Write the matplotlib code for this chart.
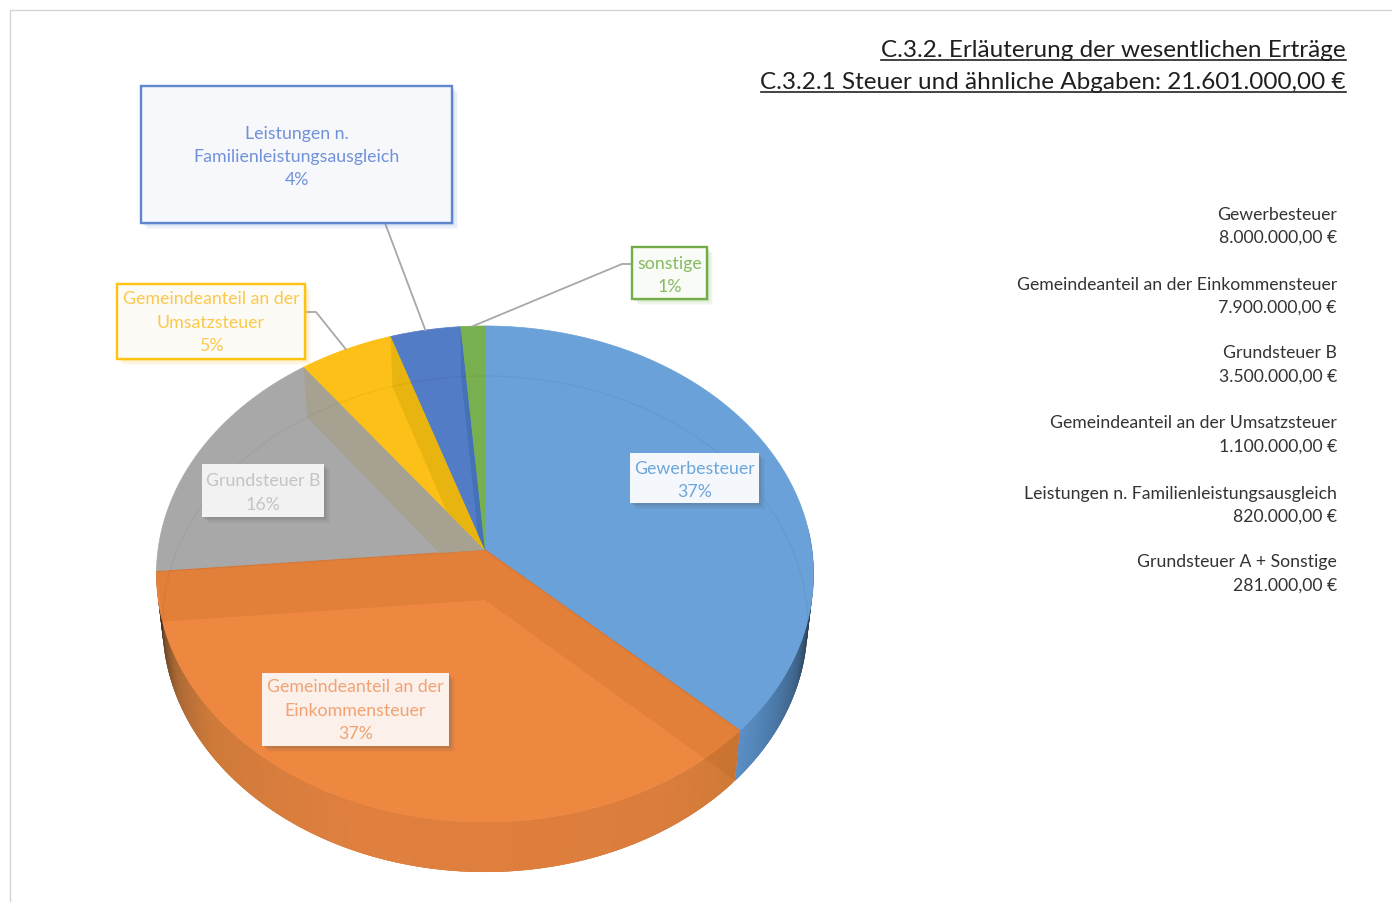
import numpy as np
import matplotlib
matplotlib.use("Agg")
import matplotlib.pyplot as plt
from matplotlib.patches import Polygon, Rectangle

plt.rcParams['font.family'] = ['Lato', 'DejaVu Sans']

# ─── Data ───────────────────────────────────────────
values = [8000000, 7900000, 3500000, 1100000, 820000, 281000]
slice_names = ['Gewerbesteuer', 'Gemeindeanteil an der\nEinkommensteuer', 'Grundsteuer B',
               'Gemeindeanteil an der\nUmsatzsteuer', 'Leistungen n.\nFamilienleistungsausgleich',
               'sonstige']
percent_labels = ['37%', '37%', '16%', '5%', '4%', '1%']
list_names = ['Gewerbesteuer', 'Gemeindeanteil an der Einkommensteuer', 'Grundsteuer B',
              'Gemeindeanteil an der Umsatzsteuer', 'Leistungen n. Familienleistungsausgleich',
              'Grundsteuer A + Sonstige']
list_amounts = ['8.000.000,00 €', '7.900.000,00 €', '3.500.000,00 €',
                '1.100.000,00 €', '820.000,00 €', '281.000,00 €']
titles = ['C.3.2. Erläuterung der wesentlichen Erträge',
          'C.3.2.1 Steuer und ähnliche Abgaben: 21.601.000,00 €']

# ─── Style ──────────────────────────────────────────
face_colors = ['#6aa1d8', '#ee8841', '#a8a8a8', '#fdc018', '#527cc6', '#78b04f']
text_colors = ['#6ea6da', '#f2a273', '#c4c4c4', '#fdc84a', '#7191d8', '#86bb62']
band_colors = [None, None, '#a6a190', '#e8b40f', '#4571b8']
CX, CY_TOP, CY_BOT = 485, 550, 600
A_TOP, A_BOT, B, K = 327, 321, 245.7, 0.0968

fig = plt.figure(figsize=(13.92, 9.02), dpi=100)
ax = fig.add_axes([0, 0, 1, 1])
ax.set_xlim(0, 1392)
ax.set_ylim(902, 0)
ax.axis('off')


def rim(theta_deg, cy, a):
    """Point(s) on a pie disc; theta clockwise from 12 o'clock, slight perspective."""
    th = np.radians(theta_deg)
    u, v = np.sin(th), np.cos(th)
    w = 1 + K * v
    return CX + a * u / w, cy - B * v / w


def top_pts(t0, t1):
    t = np.linspace(t0, t1, 200)
    return np.column_stack(rim(t, CY_TOP, A_TOP))


bounds = 360 * np.concatenate([[0], np.cumsum(values)]) / np.sum(values)

# ─── Outer wall, shaded along the angle ─────────────
# each strip runs a bit past the next one so no seams show between them
wall_ramps = {
    0: ([85, 100, 112, 125, bounds[1]],
        ['#1d2733', '#25364a', '#3f6388', '#4f80b2', '#5b90c6']),
    1: ([bounds[1], 150, 200, 232, 245, 256, bounds[2]],
        ['#cf7a38', '#db7d3c', '#e0803f', '#cf7a3a', '#ad6a35', '#6b4526', '#35261a']),
}
for idx, (stops, cols) in wall_ramps.items():
    rgb = np.array([matplotlib.colors.to_rgb(c) for c in cols])
    t_edges = np.arange(stops[0], stops[-1], 0.5)
    for t0 in t_edges:
        t1 = min(t0 + 1.5, stops[-1])
        x_a, y_a = rim(np.array([t0, t1]), CY_TOP, A_TOP)
        x_b, y_b = rim(np.array([t1, t0]), CY_BOT, A_BOT)
        col = [np.interp(t0, stops, rgb[:, c]) for c in range(3)]
        ax.add_patch(Polygon(np.column_stack([np.r_[x_a, x_b], np.r_[y_a, y_b]]),
                             facecolor=col, edgecolor='none', zorder=1))

# ─── Top faces ──────────────────────────────────────
faces = []
for i in range(len(values)):
    pts = np.vstack([[CX, CY_TOP], top_pts(bounds[i], bounds[i + 1])])
    p = Polygon(pts, closed=True, facecolor=face_colors[i], edgecolor=face_colors[i],
                lw=0.5, zorder=2)
    ax.add_patch(p)
    faces.append(p)

# ─── Inner radial walls seen through the faces ──────
for theta in [bounds[1], bounds[2]]:
    xa, ya = rim(theta, CY_TOP, A_TOP)
    xb, yb = rim(theta, CY_BOT, A_BOT)
    ax.add_patch(Polygon([[CX, CY_TOP], [xa, ya], [xb, yb], [CX, CY_BOT]],
                         facecolor='#a8500f', edgecolor='none', alpha=0.16, zorder=3))
    ax.plot([CX, xa], [CY_TOP, ya], color='#d9752f', lw=0.8, zorder=3)

for i in [2, 3, 4]:
    theta = bounds[i + 1]
    xa, ya = rim(theta, CY_TOP, A_TOP)
    xb, yb = rim(theta, CY_BOT, A_BOT)
    band = Polygon([[CX, CY_TOP], [xa, ya], [xb, yb], [CX, CY_BOT]],
                   facecolor=band_colors[i], edgecolor='none', zorder=3)
    ax.add_patch(band)
    band.set_clip_path(faces[i])

# faint rim of the lower disc showing through
t = np.linspace(-95, 100, 300)
xf, yf = rim(t, CY_BOT, A_BOT)
ax.plot(xf, yf, color='#000000', alpha=0.04, lw=1, zorder=4)


# ─── Labels ─────────────────────────────────────────
def label_box(x0, y0, x1, y1, fill, edge=None):
    shadow = edge if edge else '#555555'
    for off, a in [(6, 0.05), (4.5, 0.07), (3, 0.09), (1.5, 0.10)]:
        ax.add_patch(Rectangle((x0 + off, y0 + off), x1 - x0, y1 - y0, facecolor=shadow,
                               edgecolor='none', alpha=a, zorder=5))
    ax.add_patch(Rectangle((x0, y0), x1 - x0, y1 - y0, facecolor=fill,
                           edgecolor='none', zorder=6))
    if edge:
        ax.add_patch(Rectangle((x0, y0), x1 - x0, y1 - y0, facecolor='none', edgecolor=edge,
                               lw=1.7, zorder=6))


# x0, y0, x1, y1, fill, edge, y of first text line
boxes = [
    (630, 453, 759, 503, '#f4f8fc', None, 467),
    (262, 673, 449, 746, '#fbf1ea', None, 686),
    (202, 464, 324, 517, '#f2f2f2', None, 480),
    (117, 284, 305, 359, '#fcfbf6', '#fec20f', 298),
    (141, 86, 452, 223, '#f6f8fb', '#5f86cf', 132),
    (632, 247, 707, 299, '#f8fbf6', '#72ad47', 262),
]
LINE_H = 23.2
for i, (x0, y0, x1, y1, fill, edge, ty) in enumerate(boxes):
    label_box(x0, y0, x1, y1, fill, edge)
    lines = slice_names[i].split('\n') + [percent_labels[i]]
    for k, line in enumerate(lines):
        ax.text((x0 + x1) / 2, ty + 1.5 + k * LINE_H, line, color=text_colors[i], fontsize=12.8,
                ha='center', va='center', zorder=7)

# leader lines end on the rim at mid-slice
mid = (bounds[:-1] + bounds[1:]) / 2
leaders = {3: [(306, 312), (316, 312)], 4: [(385, 223)], 5: [(632, 264), (622, 264)]}
for i, pts in leaders.items():
    xm, ym = rim(mid[i], CY_TOP, A_TOP)
    xs = [p[0] for p in pts] + [xm]
    ys = [p[1] for p in pts] + [ym]
    ax.plot(xs, ys, color='#a8a8a8', lw=1.3, zorder=4)

# ─── Title with underline ───────────────────────────
fig.canvas.draw()
renderer = fig.canvas.get_renderer()
for line, y, yu in zip(titles, [50.5, 82.5], [60, 91.5]):
    t = ax.text(1346, y, line, color='#1f1f1f', fontsize=17.5, ha='right', va='center')
    bb = t.get_window_extent(renderer)
    ax.plot([1346 - bb.width, 1346], [yu, yu], color='#222222', lw=1.2)

# ─── Amount list on the right ───────────────────────
list_y = [213, 283, 352, 422, 492, 561]
for name, amount, y in zip(list_names, list_amounts, list_y):
    ax.text(1337, y + 1.5, name, color='#333333', fontsize=12.7, ha='right', va='center')
    ax.text(1337, y + 25, amount, color='#333333', fontsize=12.7, ha='right', va='center')

# page frame
ax.plot([10, 10, 1392], [902, 10, 10], color='#d4d4d4', lw=1)

fig.savefig('out.png', dpi=100)
plt.close(fig)
